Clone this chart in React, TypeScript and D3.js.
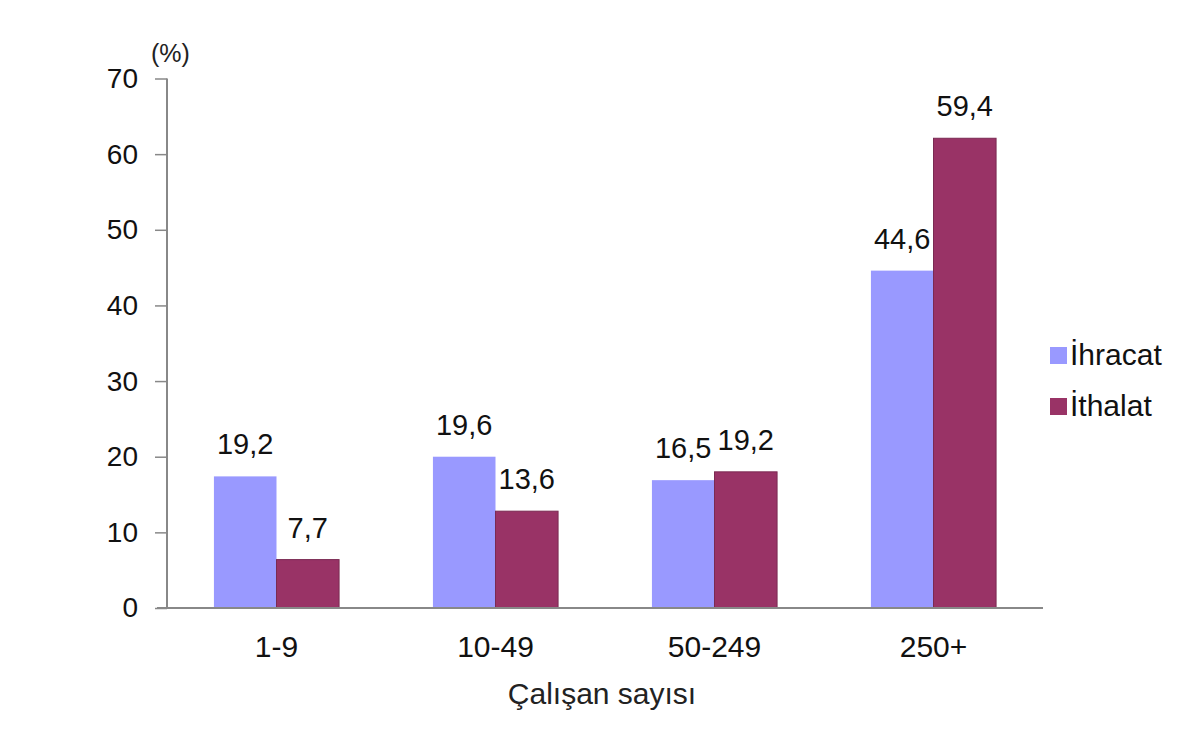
import React, { useRef, useEffect } from 'react';
import * as d3 from 'd3';

const categories = ['1-9', '10-49', '50-249', '250+'];
const ihracatBars = [17.4, 20.0, 16.9, 44.6];
const ithalatBars = [6.4, 12.8, 18.0, 62.1];
const ihracatLabels = ['19,2', '19,6', '16,5', '44,6'];
const ithalatLabels = ['7,7', '13,6', '19,2', '59,4'];
const yTicks = [0, 10, 20, 30, 40, 50, 60, 70];
const seriesNames = ['İhracat', 'İthalat'];
const seriesColors = ['#9999ff', '#993366'];

const App = () => {
  const ref = useRef<SVGSVGElement>(null);

  useEffect(() => {
    const svg = d3.select(ref.current);
    svg.selectAll('*').remove();
    const font = '"Liberation Sans", Arial, sans-serif';

    const left = 167;
    const right = 1043;
    const top = 78.5;
    const bottom = 608;

    const x = d3.scaleBand().domain(categories).range([left, right]);
    const inner = d3
      .scaleBand()
      .domain(seriesNames)
      .range([0, x.bandwidth()])
      .paddingOuter(0.75)
      .paddingInner(0);
    const y = d3.scaleLinear().domain([0, 70]).range([bottom, top]);

    const rows = categories.map((c, i) => ({
      cat: c,
      vals: [
        { s: seriesNames[0], v: ihracatBars[i], label: ihracatLabels[i], color: seriesColors[0] },
        { s: seriesNames[1], v: ithalatBars[i], label: ithalatLabels[i], color: seriesColors[1] },
      ],
    }));

    const g = svg
      .selectAll('g.grp')
      .data(rows)
      .enter()
      .append('g')
      .attr('transform', (d) => `translate(${x(d.cat)},0)`);

    g.selectAll('rect')
      .data((d) => d.vals)
      .enter()
      .append('rect')
      .attr('x', (d) => inner(d.s))
      .attr('y', (d) => y(d.v))
      .attr('width', inner.bandwidth())
      .attr('height', (d) => bottom - y(d.v))
      .attr('fill', (d) => d.color)
      .attr('stroke', (d) => (d.s === seriesNames[1] ? '#7a2a52' : 'none'))
      .attr('stroke-width', 1);

    g.selectAll('text')
      .data((d) => d.vals)
      .enter()
      .append('text')
      .attr('x', (d) => inner(d.s) + inner.bandwidth() / 2)
      .attr('y', (d) => y(d.v) - 22)
      .attr('text-anchor', 'middle')
      .attr('font-family', font)
      .attr('font-size', 29)
      .attr('fill', '#111')
      .text((d) => d.label);

    // y axis
    const yAxis = d3.axisLeft(y).tickValues(yTicks).tickSize(12).tickPadding(17);
    const ya = svg.append('g').attr('transform', `translate(${left},0)`).call(yAxis);
    ya.select('.domain').attr('stroke', '#888').attr('stroke-width', 2).attr('d', `M0,${top}V${bottom}`);
    ya.selectAll('.tick line').attr('stroke', '#888').attr('stroke-width', 1.5);
    ya.selectAll('.tick text')
      .attr('font-family', font)
      .attr('font-size', 28)
      .attr('fill', '#111');

    // x axis
    const xAxis = d3.axisBottom(x).tickSize(0).tickPadding(28);
    const xa = svg.append('g').attr('transform', `translate(0,${bottom})`).call(xAxis);
    xa.select('.domain').attr('stroke', '#888').attr('stroke-width', 2).attr('d', `M${left - 10},0H${right}`);
    xa.selectAll('.tick text')
      .attr('font-family', font)
      .attr('font-size', 30)
      .attr('fill', '#111');

    svg
      .append('text')
      .attr('x', (left + right) / 2 - 3)
      .attr('y', 704)
      .attr('text-anchor', 'middle')
      .attr('font-family', font)
      .attr('font-size', 30)
      .attr('fill', '#222')
      .text('Çalışan sayısı');

    svg
      .append('text')
      .attr('x', 151)
      .attr('y', 62)
      .attr('font-family', font)
      .attr('font-size', 25)
      .attr('fill', '#222')
      .text('(%)');

    // legend
    const lg = svg
      .selectAll('g.leg')
      .data(seriesNames)
      .enter()
      .append('g')
      .attr('transform', (d, i) => `translate(1050,${347 + i * 51})`);
    lg.append('rect')
      .attr('width', 17)
      .attr('height', 17)
      .attr('fill', (d, i) => seriesColors[i]);
    lg.append('text')
      .attr('x', 20)
      .attr('y', 18)
      .attr('font-family', font)
      .attr('font-size', 30)
      .attr('fill', '#111')
      .text((d) => d);
  }, []);

  return (
    <svg
      ref={ref}
      width={1200}
      height={732}
      style={{ position: 'absolute', left: 0, top: 0, background: '#fff' }}
    ></svg>
  );
};

export default App;
